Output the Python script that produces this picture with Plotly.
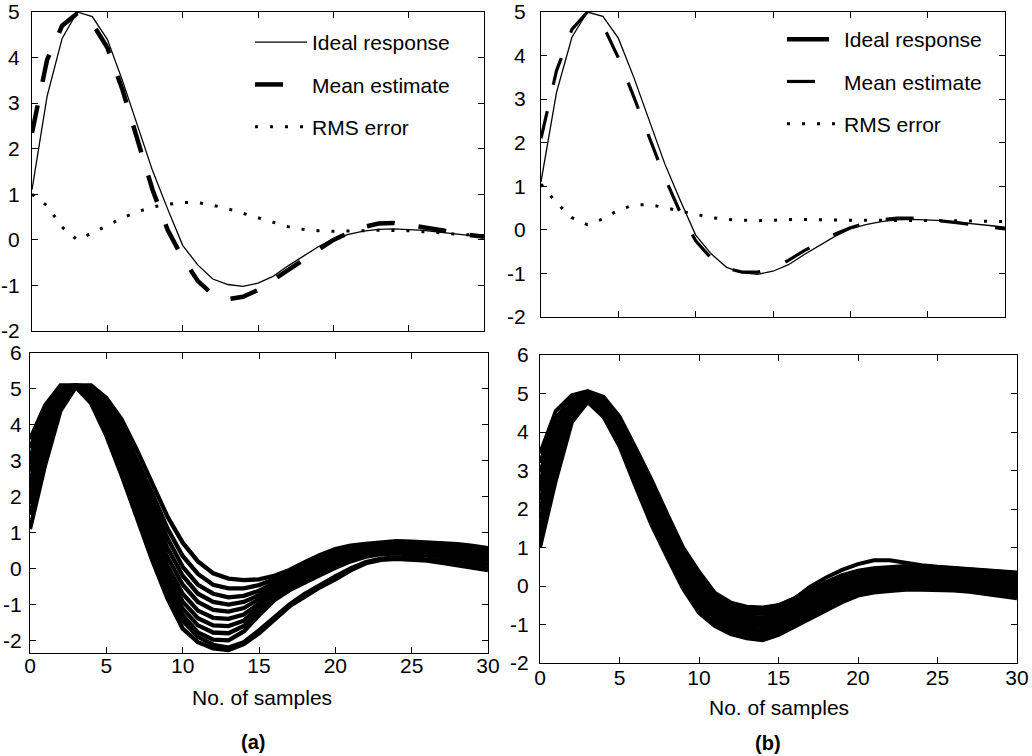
import plotly.graph_objects as go

# ---------------- data ----------------
samples = list(range(31))
x_tick_vals = [0, 5, 10, 15, 20, 25, 30]
x_tick_text = ["0", "5", "10", "15", "20", "25", "30"]
y_top_vals = [-2, -1, 0, 1, 2, 3, 4, 5]
y_top_text = ["-2", "-1", "0", "1", "2", "3", "4", "5"]
y_bot_vals = [-2, -1, 0, 1, 2, 3, 4, 5, 6]
y_bot_text = ["-2", "-1", "0", "1", "2", "3", "4", "5", "6"]

ideal_response = [1.1, 3.15, 4.42, 5.0, 4.9, 4.4, 3.5, 2.5, 1.52, 0.68, -0.12, -0.55, -0.86, -0.98, -1.02,
                  -0.95, -0.8, -0.57, -0.35, -0.15, 0.02, 0.12, 0.19, 0.23, 0.24, 0.23, 0.21, 0.17, 0.14, 0.1, 0.06]

mean_a = [2.35, 3.95, 4.7, 4.97, 4.75, 4.22, 3.3, 2.2, 1.1, 0.22, -0.4, -0.9, -1.2, -1.3, -1.25, -1.1,
          -0.88, -0.65, -0.42, -0.2, 0.0, 0.15, 0.28, 0.36, 0.37, 0.33, 0.27, 0.21, 0.15, 0.11, 0.07]
rms_a = [1.0, 0.75, 0.28, 0.0, 0.15, 0.32, 0.48, 0.62, 0.72, 0.78, 0.82, 0.82, 0.76, 0.68, 0.58, 0.48,
         0.38, 0.29, 0.23, 0.2, 0.19, 0.19, 0.2, 0.21, 0.21, 0.2, 0.18, 0.15, 0.13, 0.11, 0.09]

mean_b = [2.1, 3.65, 4.6, 5.0, 4.7, 3.95, 3.05, 2.1, 1.2, 0.4, -0.25, -0.65, -0.88, -0.97, -0.97, -0.88,
          -0.7, -0.48, -0.28, -0.1, 0.05, 0.15, 0.23, 0.27, 0.27, 0.24, 0.2, 0.16, 0.12, 0.07, 0.02]
rms_b = [1.05, 0.62, 0.28, 0.12, 0.25, 0.45, 0.57, 0.58, 0.51, 0.43, 0.36, 0.28, 0.24, 0.22, 0.21, 0.22,
         0.24, 0.24, 0.23, 0.22, 0.22, 0.22, 0.22, 0.22, 0.22, 0.22, 0.21, 0.21, 0.2, 0.2, 0.19]

# individual estimates, panel (a)
est_a01 = [1.1, 2.9, 4.4, 5.05, 4.6, 3.7, 2.6, 1.4, 0.24, -0.83, -1.67, -2.05, -2.22, -2.27, -2.1, -1.8, -1.42, -1.05, -0.78, -0.52, -0.3, -0.05, 0.15, 0.24, 0.27, 0.26, 0.22, 0.16, 0.09, 0.02, -0.04]
est_a02 = [1.5, 3.15, 4.5, 5.07, 4.65, 3.8, 2.75, 1.55, 0.4, -0.65, -1.45, -1.9, -2.12, -2.2, -2.05, -1.72, -1.35, -1.0, -0.7, -0.45, -0.22, 0.0, 0.18, 0.28, 0.31, 0.3, 0.26, 0.2, 0.14, 0.08, 0.02]
est_a03 = [1.8, 3.35, 4.6, 5.08, 4.7, 3.9, 2.85, 1.7, 0.55, -0.5, -1.3, -1.78, -1.98, -2.0, -1.75, -1.3, -0.88, -0.6, -0.38, -0.18, 0.02, 0.2, 0.33, 0.4, 0.42, 0.4, 0.36, 0.3, 0.24, 0.17, 0.1]
est_a04 = [2.0, 3.5, 4.66, 5.08, 4.75, 3.98, 2.98, 1.85, 0.72, -0.32, -1.12, -1.58, -1.78, -1.8, -1.6, -1.2, -0.8, -0.52, -0.3, -0.1, 0.1, 0.27, 0.4, 0.46, 0.48, 0.46, 0.42, 0.37, 0.31, 0.25, 0.18]
est_a05 = [2.25, 3.62, 4.72, 5.09, 4.8, 4.06, 3.1, 2.02, 0.9, -0.12, -0.92, -1.38, -1.58, -1.6, -1.45, -1.1, -0.72, -0.45, -0.22, -0.02, 0.17, 0.33, 0.45, 0.51, 0.54, 0.52, 0.48, 0.43, 0.37, 0.31, 0.25]
est_a06 = [2.45, 3.75, 4.78, 5.09, 4.85, 4.15, 3.25, 2.2, 1.1, 0.08, -0.7, -1.17, -1.37, -1.4, -1.28, -0.98, -0.64, -0.38, -0.15, 0.05, 0.23, 0.38, 0.49, 0.55, 0.58, 0.57, 0.54, 0.5, 0.45, 0.39, 0.33]
est_a07 = [2.7, 3.9, 4.85, 5.1, 4.9, 4.25, 3.42, 2.42, 1.35, 0.32, -0.45, -0.93, -1.15, -1.2, -1.1, -0.85, -0.55, -0.3, -0.06, 0.13, 0.3, 0.44, 0.54, 0.6, 0.63, 0.62, 0.6, 0.56, 0.51, 0.46, 0.4]
est_a08 = [2.9, 4.05, 4.92, 5.1, 4.95, 4.38, 3.6, 2.65, 1.6, 0.58, -0.2, -0.7, -0.93, -1.0, -0.93, -0.74, -0.47, -0.22, 0.02, 0.2, 0.36, 0.49, 0.58, 0.64, 0.67, 0.66, 0.64, 0.61, 0.57, 0.52, 0.46]
est_a09 = [3.1, 4.2, 5.0, 5.1, 5.0, 4.5, 3.78, 2.85, 1.85, 0.85, 0.05, -0.45, -0.7, -0.8, -0.76, -0.62, -0.4, -0.16, 0.08, 0.26, 0.42, 0.54, 0.62, 0.67, 0.7, 0.7, 0.68, 0.65, 0.62, 0.57, 0.51]
est_a10 = [3.35, 4.38, 5.06, 5.1, 5.05, 4.62, 3.96, 3.06, 2.1, 1.12, 0.35, -0.15, -0.45, -0.55, -0.55, -0.46, -0.3, -0.1, 0.13, 0.32, 0.48, 0.6, 0.66, 0.7, 0.73, 0.73, 0.71, 0.69, 0.66, 0.61, 0.55]
est_a11 = [3.6, 4.55, 5.1, 5.1, 5.1, 4.75, 4.15, 3.3, 2.38, 1.45, 0.72, 0.2, -0.13, -0.28, -0.32, -0.3, -0.2, -0.04, 0.18, 0.38, 0.54, 0.64, 0.69, 0.73, 0.76, 0.75, 0.73, 0.71, 0.68, 0.63, 0.57]

# individual estimates, panel (b)
est_b01 = [1.0, 2.75, 4.25, 4.78, 4.39, 3.63, 2.6, 1.6, 0.75, -0.07, -0.7, -1.04, -1.25, -1.36, -1.41, -1.27, -1.06, -0.84, -0.62, -0.42, -0.25, -0.17, -0.13, -0.1, -0.1, -0.1, -0.12, -0.15, -0.2, -0.26, -0.32]
est_b02 = [1.24, 2.93, 4.32, 4.81, 4.44, 3.71, 2.7, 1.72, 0.86, 0.04, -0.59, -0.95, -1.17, -1.28, -1.33, -1.19, -0.99, -0.77, -0.55, -0.35, -0.19, -0.11, -0.07, -0.04, -0.04, -0.04, -0.06, -0.09, -0.14, -0.2, -0.25]
est_b03 = [1.49, 3.11, 4.39, 4.83, 4.49, 3.78, 2.8, 1.83, 0.97, 0.14, -0.49, -0.87, -1.09, -1.2, -1.24, -1.12, -0.91, -0.69, -0.48, -0.28, -0.12, -0.04, 0.0, 0.02, 0.02, 0.02, 0.0, -0.03, -0.08, -0.13, -0.19]
est_b04 = [1.73, 3.29, 4.46, 4.86, 4.55, 3.86, 2.9, 1.95, 1.09, 0.25, -0.38, -0.78, -1.0, -1.11, -1.16, -1.04, -0.84, -0.62, -0.4, -0.21, -0.06, 0.02, 0.06, 0.09, 0.09, 0.08, 0.05, 0.02, -0.02, -0.07, -0.12]
est_b05 = [1.98, 3.47, 4.53, 4.88, 4.6, 3.94, 3.0, 2.07, 1.2, 0.36, -0.27, -0.7, -0.92, -1.03, -1.07, -0.96, -0.76, -0.54, -0.33, -0.14, 0.01, 0.08, 0.12, 0.15, 0.15, 0.14, 0.11, 0.08, 0.04, -0.01, -0.06]
est_b06 = [2.22, 3.65, 4.6, 4.91, 4.65, 4.02, 3.1, 2.19, 1.31, 0.47, -0.17, -0.61, -0.84, -0.95, -0.99, -0.89, -0.69, -0.47, -0.26, -0.07, 0.08, 0.15, 0.19, 0.21, 0.21, 0.2, 0.17, 0.14, 0.1, 0.06, 0.01]
est_b07 = [2.46, 3.83, 4.67, 4.94, 4.7, 4.09, 3.2, 2.3, 1.42, 0.57, -0.06, -0.52, -0.76, -0.87, -0.9, -0.81, -0.62, -0.4, -0.19, 0.0, 0.14, 0.21, 0.25, 0.27, 0.27, 0.25, 0.23, 0.2, 0.16, 0.12, 0.08]
est_b08 = [2.71, 4.01, 4.74, 4.96, 4.75, 4.17, 3.3, 2.42, 1.53, 0.68, 0.05, -0.44, -0.68, -0.79, -0.82, -0.73, -0.54, -0.32, -0.12, 0.07, 0.21, 0.27, 0.31, 0.33, 0.33, 0.31, 0.29, 0.26, 0.22, 0.18, 0.14]
est_b09 = [2.95, 4.19, 4.81, 4.99, 4.81, 4.25, 3.4, 2.54, 1.65, 0.79, 0.16, -0.35, -0.6, -0.7, -0.73, -0.65, -0.47, -0.25, -0.04, 0.14, 0.27, 0.33, 0.37, 0.4, 0.4, 0.37, 0.34, 0.31, 0.28, 0.24, 0.21]
est_b10 = [3.2, 4.37, 4.88, 5.01, 4.86, 4.32, 3.5, 2.65, 1.76, 0.89, 0.26, -0.27, -0.51, -0.62, -0.65, -0.58, -0.39, -0.17, 0.03, 0.21, 0.34, 0.4, 0.44, 0.46, 0.46, 0.43, 0.4, 0.37, 0.34, 0.31, 0.27]
est_b11 = [3.44, 4.55, 4.95, 5.06, 4.91, 4.4, 3.6, 2.77, 1.87, 1.0, 0.37, -0.18, -0.43, -0.54, -0.56, -0.5, -0.32, -0.1, 0.1, 0.28, 0.4, 0.46, 0.5, 0.52, 0.52, 0.49, 0.46, 0.43, 0.4, 0.37, 0.34]
est_b12 = [2.6, 3.9, 4.72, 4.95, 4.74, 4.15, 3.3, 2.4, 1.5, 0.65, 0.0, -0.38, -0.55, -0.6, -0.58, -0.5, -0.33, -0.02, 0.22, 0.42, 0.57, 0.67, 0.67, 0.6, 0.54, 0.5, 0.47, 0.44, 0.41, 0.38, 0.35]

estimates_a = [est_a01, est_a02, est_a03, est_a04, est_a05, est_a06, est_a07, est_a08, est_a09, est_a10, est_a11]
estimates_b = [est_b01, est_b02, est_b03, est_b04, est_b05, est_b06, est_b07, est_b08, est_b09, est_b10, est_b11, est_b12]

# ---------------- figure ----------------
W, H = 1032, 756
FONT = "Liberation Sans, Arial, sans-serif"


def px_x(p):
    return p / W


def px_y(p):
    return 1 - p / H


fig = go.Figure()

# panel (a) top
fig.add_trace(go.Scatter(x=samples, y=ideal_response, mode="lines", name="Ideal response",
                         line=dict(color="black", width=1.3), xaxis="x", yaxis="y",
                         legend="legend", legendgroup="a1"))
fig.add_trace(go.Scatter(x=samples, y=mean_a, mode="lines", name="Mean estimate",
                         line=dict(color="black", width=4.5, dash="28px,24px"), xaxis="x", yaxis="y",
                         legend="legend", legendgroup="a2"))
fig.add_trace(go.Scatter(x=samples, y=rms_a, mode="lines", name="RMS error",
                         line=dict(color="black", width=3, dash="3px,12px"), xaxis="x", yaxis="y",
                         legend="legend", legendgroup="a3"))

# panel (b) top
fig.add_trace(go.Scatter(x=samples, y=ideal_response, mode="lines", name="Ideal response",
                         line=dict(color="black", width=1.3), xaxis="x2", yaxis="y2",
                         showlegend=False))
fig.add_trace(go.Scatter(x=[None], y=[None], mode="lines", name="Ideal response",
                         line=dict(color="black", width=4.5, dash="42px,20px"), xaxis="x2", yaxis="y2",
                         legend="legend2", legendgroup="b1"))
fig.add_trace(go.Scatter(x=samples, y=mean_b, mode="lines", name="Mean estimate",
                         line=dict(color="black", width=3.2, dash="28px,27px"), xaxis="x2", yaxis="y2",
                         legend="legend2", legendgroup="b2"))
fig.add_trace(go.Scatter(x=samples, y=rms_b, mode="lines", name="RMS error",
                         line=dict(color="black", width=3, dash="3px,12px"), xaxis="x2", yaxis="y2",
                         legend="legend2", legendgroup="b3"))

# ensembles
for est in estimates_a:
    fig.add_trace(go.Scatter(x=samples, y=est, mode="lines", showlegend=False,
                             line=dict(color="black", width=4.3), xaxis="x3", yaxis="y3"))
for est in estimates_b:
    fig.add_trace(go.Scatter(x=samples, y=est, mode="lines", showlegend=False,
                             line=dict(color="black", width=4), xaxis="x4", yaxis="y4"))

axis_common = dict(showline=True, linecolor="black", linewidth=1.3, mirror="ticks",
                   ticks="inside", ticklen=6, tickwidth=1.2, tickcolor="black",
                   showgrid=False, zeroline=False, automargin=False, ticklabeloverflow="allow",
                   tickfont=dict(family=FONT, size=21, color="black"))

fig.update_layout(
    template="none",
    width=W, height=H,
    margin=dict(l=0, r=0, t=0, b=0, pad=0),
    paper_bgcolor="white", plot_bgcolor="white",
    font=dict(family=FONT, size=21, color="black"),
    xaxis=dict(domain=[px_x(32), px_x(484)], range=[0, 30], anchor="y",
               tickvals=x_tick_vals, showticklabels=False, **axis_common),
    yaxis=dict(domain=[px_y(331), px_y(12)], range=[-2, 5], anchor="x",
               tickvals=y_top_vals, ticktext=y_top_text, ticklabelstandoff=7, **axis_common),
    xaxis2=dict(domain=[px_x(541), px_x(1005)], range=[0, 30], anchor="y2",
                tickvals=x_tick_vals, showticklabels=False, **axis_common),
    yaxis2=dict(domain=[px_y(317), px_y(12)], range=[-2, 5], anchor="x2",
                tickvals=y_top_vals, ticktext=y_top_text, ticklabelstandoff=10, **axis_common),
    xaxis3=dict(domain=[px_x(30), px_x(488)], range=[0, 30], anchor="y3",
                tickvals=x_tick_vals, ticktext=x_tick_text, ticklabelstandoff=-6, **axis_common),
    yaxis3=dict(domain=[px_y(653), px_y(353)], range=[-2.35, 6], anchor="x3",
                tickvals=y_bot_vals, ticktext=y_bot_text, ticklabelstandoff=3, **axis_common),
    xaxis4=dict(domain=[px_x(540), px_x(1017)], range=[0, 30], anchor="y4",
                tickvals=x_tick_vals, ticktext=x_tick_text, ticklabelstandoff=-4, **axis_common),
    yaxis4=dict(domain=[px_y(663), px_y(355)], range=[-2, 6], anchor="x4",
                tickvals=y_bot_vals, ticktext=y_bot_text, ticklabelstandoff=6, **axis_common),
    legend=dict(x=px_x(250), y=px_y(22), xanchor="left", yanchor="top",
                bgcolor="rgba(0,0,0,0)", borderwidth=0, tracegroupgap=12, itemwidth=52,
                font=dict(family=FONT, size=21, color="black")),
    legend2=dict(x=px_x(782), y=px_y(19), xanchor="left", yanchor="top",
                 bgcolor="rgba(0,0,0,0)", borderwidth=0, tracegroupgap=12, itemwidth=52,
                 font=dict(family=FONT, size=21, color="black")),
    annotations=[
        dict(text="No. of samples", x=px_x(262), y=px_y(697), xref="paper", yref="paper",
             xanchor="center", yanchor="middle",
             showarrow=False, font=dict(family=FONT, size=21, color="black")),
        dict(text="No. of samples", x=px_x(779), y=px_y(707), xref="paper", yref="paper",
             xanchor="center", yanchor="middle",
             showarrow=False, font=dict(family=FONT, size=21, color="black")),
        dict(text="<b>(a)</b>", x=px_x(253), y=px_y(742), xref="paper", yref="paper",
             xanchor="center", yanchor="middle",
             showarrow=False, font=dict(family=FONT, size=20, color="black")),
        dict(text="<b>(b)</b>", x=px_x(768), y=px_y(743), xref="paper", yref="paper",
             xanchor="center", yanchor="middle",
             showarrow=False, font=dict(family=FONT, size=20, color="black")),
    ],
)

fig.write_html("out.html", config={"displayModeBar": False},
               post_script="document.body.style.margin='0';document.body.style.overflow='hidden';")
